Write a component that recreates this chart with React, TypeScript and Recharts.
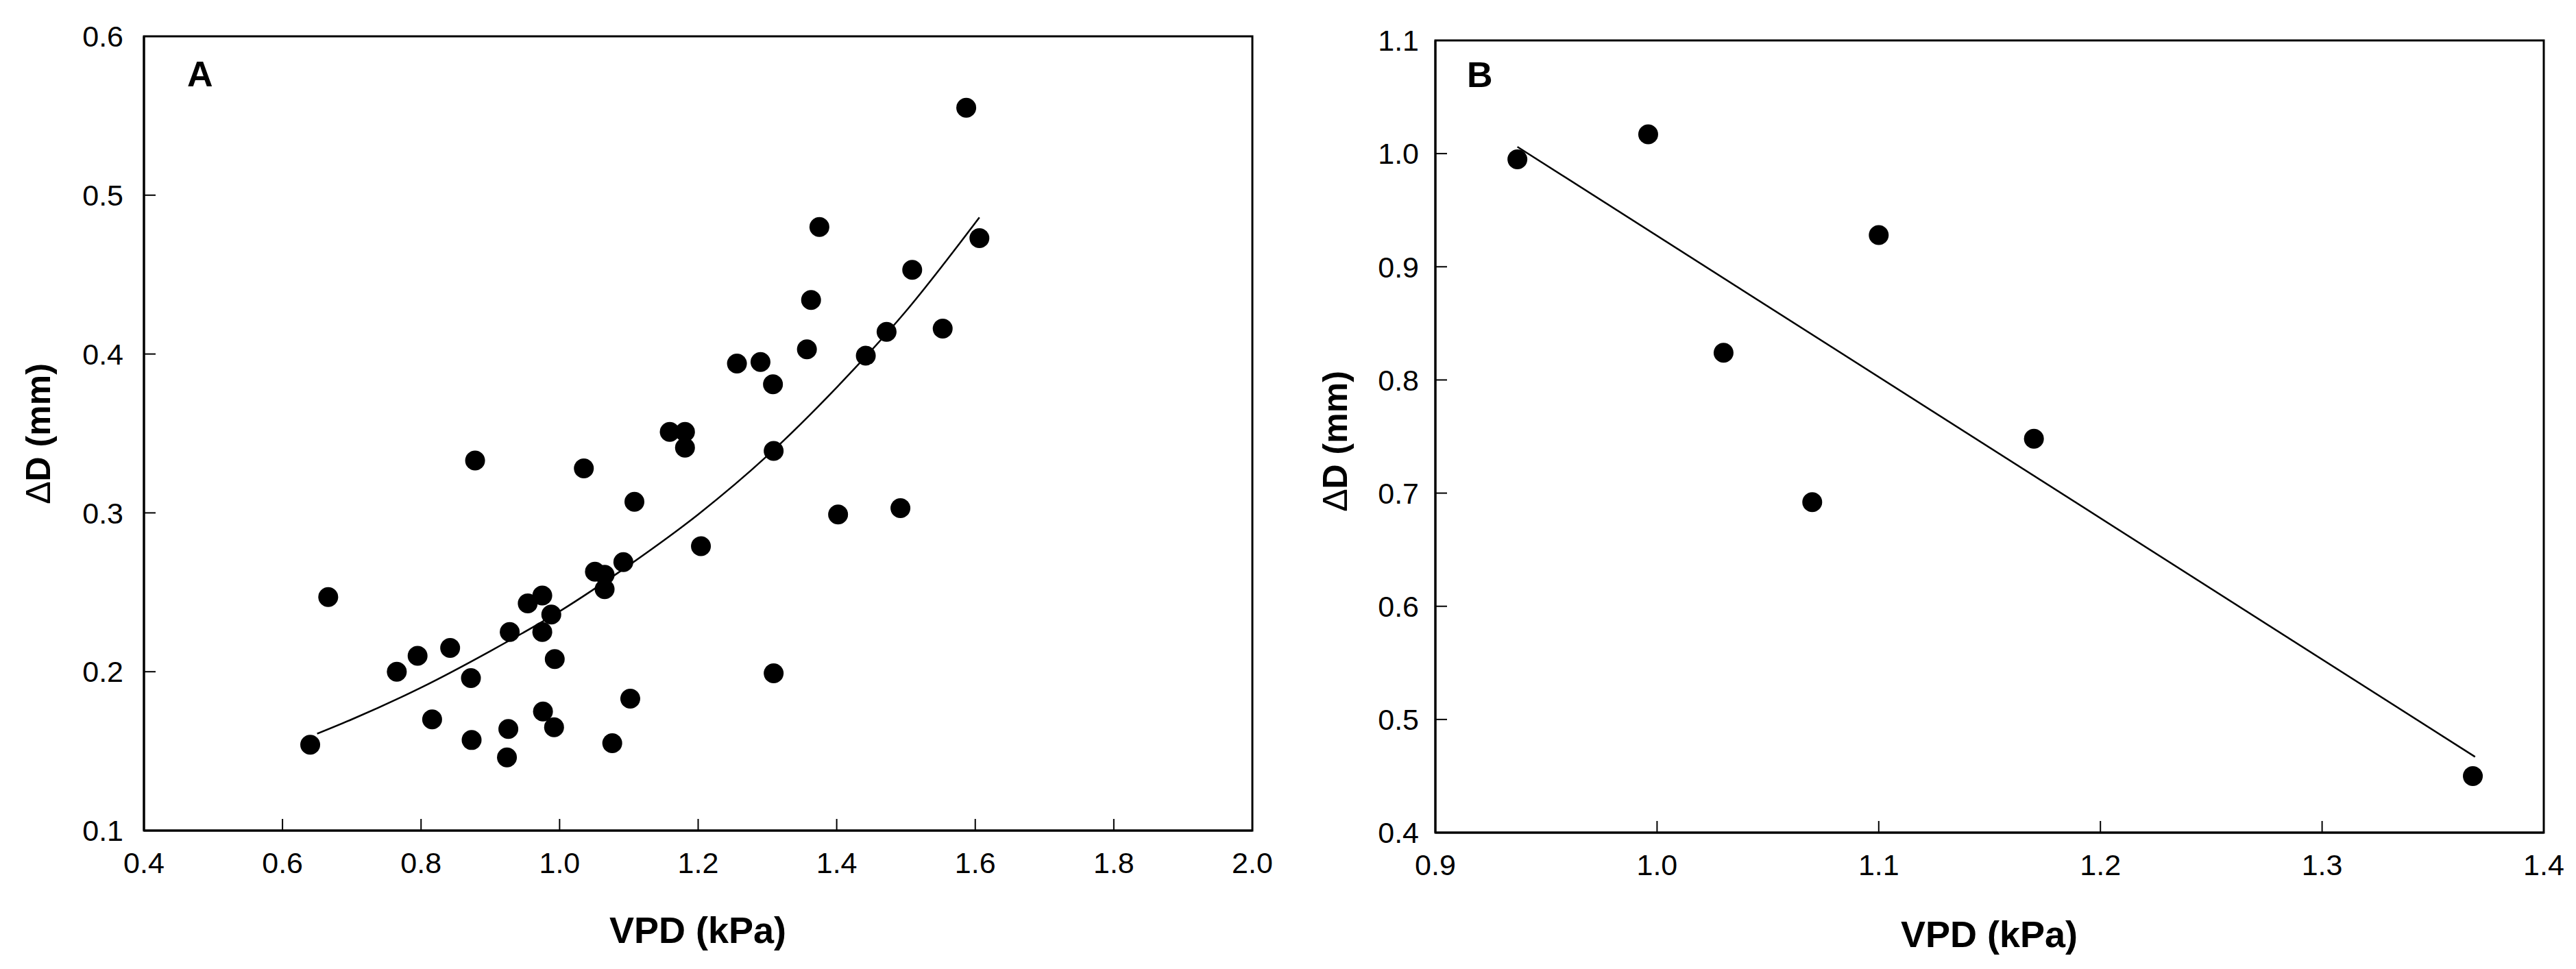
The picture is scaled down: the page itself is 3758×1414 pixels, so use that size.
import React from "react";
import { ScatterChart, Scatter, XAxis, YAxis, ReferenceArea } from "recharts";

const FONT = "'Liberation Sans', Arial, Helvetica, sans-serif";

// Panel A – all observations
const vpdA = [
  0.64, 0.666, 0.765, 0.795, 0.816, 0.842, 0.872, 0.873, 0.878, 0.924, 0.926,
  0.928, 0.954, 0.975, 0.975, 0.976, 0.988, 0.992, 0.993, 1.035, 1.051, 1.065,
  1.065, 1.076, 1.092, 1.102, 1.108, 1.159, 1.181, 1.181, 1.204, 1.256, 1.29,
  1.308, 1.309, 1.309, 1.357, 1.363, 1.375, 1.402, 1.442, 1.472, 1.492, 1.509,
  1.553, 1.587, 1.606,
];
const dA = [
  0.154, 0.247, 0.2, 0.21, 0.17, 0.215, 0.196, 0.157, 0.333, 0.146, 0.164,
  0.225, 0.243, 0.248, 0.225, 0.175, 0.236, 0.165, 0.208, 0.328, 0.263, 0.261,
  0.252, 0.155, 0.269, 0.183, 0.307, 0.351, 0.351, 0.341, 0.279, 0.394, 0.395,
  0.381, 0.339, 0.199, 0.403, 0.434, 0.48, 0.299, 0.399, 0.414, 0.303, 0.453,
  0.416, 0.555, 0.473,
];
// fitted curve
const fitVpdA = [0.65, 0.7, 0.8, 0.9, 1.0, 1.1, 1.2, 1.3, 1.4, 1.5, 1.606];
const fitDA = [0.161, 0.17, 0.19, 0.213, 0.238, 0.267, 0.299, 0.336, 0.379, 0.427, 0.486];
const xTicksA = [0.4, 0.6, 0.8, 1.0, 1.2, 1.4, 1.6, 1.8, 2.0];
const yTicksA = [0.1, 0.2, 0.3, 0.4, 0.5, 0.6];

// Panel B
const vpdB = [0.937, 0.996, 1.03, 1.07, 1.1, 1.17, 1.368];
const dB = [0.995, 1.017, 0.824, 0.692, 0.928, 0.748, 0.45];
const fitVpdB = [0.937, 1.369];
const fitDB = [1.006, 0.467];
const xTicksB = [0.9, 1.0, 1.1, 1.2, 1.3, 1.4];
const yTicksB = [0.4, 0.5, 0.6, 0.7, 0.8, 0.9, 1.0, 1.1];

const zip = (xs: number[], ys: number[]) => xs.map((x, i) => ({ x, y: ys[i] }));

const Dot = (props: any) => <circle cx={props.cx} cy={props.cy} r={14.5} fill="#000" />;
const NoDot = () => <g />;

interface PanelProps {
  width: number;
  height: number;
  margin: { top: number; right: number; bottom: number; left: number };
  xDomain: [number, number];
  yDomain: [number, number];
  xTicks: number[];
  yTicks: number[];
  points: { x: number; y: number }[];
  fit: { x: number; y: number }[];
  yTickMargin: number;
  curved?: boolean;
}

const Panel: React.FC<PanelProps> = ({
  width,
  height,
  margin,
  xDomain,
  yDomain,
  xTicks,
  yTicks,
  points,
  fit,
  yTickMargin,
  curved,
}) => (
  <ScatterChart width={width} height={height} margin={margin}>
    <XAxis
      type="number"
      dataKey="x"
      domain={xDomain}
      ticks={xTicks}
      interval={0}
      allowDataOverflow
      height={60}
      tickFormatter={(v: number) => v.toFixed(1)}
      tickSize={-17}
      tickMargin={48}
      axisLine={{ stroke: "#000", strokeWidth: 3 }}
      tickLine={{ stroke: "#000", strokeWidth: 2 }}
      tick={{ fill: "#000", fontSize: 43, fontFamily: FONT }}
    />
    <YAxis
      type="number"
      dataKey="y"
      domain={yDomain}
      ticks={yTicks}
      interval={0}
      allowDataOverflow
      width={120}
      tickFormatter={(v: number) => v.toFixed(1)}
      tickSize={-17}
      tickMargin={yTickMargin}
      axisLine={{ stroke: "#000", strokeWidth: 3 }}
      tickLine={{ stroke: "#000", strokeWidth: 2 }}
      tick={{ fill: "#000", fontSize: 43, fontFamily: FONT }}
    />
    <ReferenceArea
      x1={xDomain[0]}
      x2={xDomain[1]}
      y1={yDomain[0]}
      y2={yDomain[1]}
      fill="none"
      stroke="#000"
      strokeWidth={3}
      ifOverflow="visible"
    />
    <Scatter
      data={fit}
      fill="#000"
      shape={NoDot}
      line={{ stroke: "#000", strokeWidth: 2.5 }}
      lineJointType={curved ? "monotoneX" : "linear"}
      isAnimationActive={false}
    />
    <Scatter data={points} fill="#000" shape={Dot} isAnimationActive={false} />
  </ScatterChart>
);

const textBase: React.CSSProperties = {
  position: "absolute",
  fontFamily: FONT,
  color: "#000",
  lineHeight: 1,
  whiteSpace: "nowrap",
};

const XTitle = ({ cx, cy }: { cx: number; cy: number }) => (
  <div
    style={{
      ...textBase,
      left: cx,
      top: cy,
      fontSize: 54,
      fontWeight: 700,
      transform: "translate(-50%, -50%)",
    }}
  >
    VPD (kPa)
  </div>
);

const YTitle = ({ cx, cy }: { cx: number; cy: number }) => (
  <div
    style={{
      ...textBase,
      left: cx,
      top: cy,
      fontSize: 50,
      fontWeight: 700,
      transform: "translate(-50%, -50%) rotate(-90deg)",
    }}
  >
    <span style={{ fontWeight: 400 }}>Δ</span>D (mm)
  </div>
);

const Letter = ({ x, y, text }: { x: number; y: number; text: string }) => (
  <div style={{ ...textBase, left: x, top: y, fontSize: 52, fontWeight: 700 }}>{text}</div>
);

export default function App() {
  return (
    <div
      style={{
        position: "absolute",
        left: 0,
        top: 0,
        width: 3758,
        height: 1414,
        background: "#fff",
        overflow: "hidden",
      }}
    >
      <div style={{ position: "absolute", left: 0, top: 0 }}>
        <Panel
          width={1900}
          height={1414}
          margin={{ top: 53, right: 73, bottom: 142, left: 90 }}
          xDomain={[0.4, 2.0]}
          yDomain={[0.1, 0.6]}
          xTicks={xTicksA}
          yTicks={yTicksA}
          points={zip(vpdA, dA)}
          fit={zip(fitVpdA, fitDA)}
          yTickMargin={47}
          curved
        />
      </div>
      <div style={{ position: "absolute", left: 1860, top: 0 }}>
        <Panel
          width={1898}
          height={1414}
          margin={{ top: 59, right: 47, bottom: 139, left: 114 }}
          xDomain={[0.9, 1.4]}
          yDomain={[0.4, 1.1]}
          xTicks={xTicksB}
          yTicks={yTicksB}
          points={zip(vpdB, dB)}
          fit={zip(fitVpdB, fitDB)}
          yTickMargin={41}
        />
      </div>
      <XTitle cx={1018} cy={1357} />
      <XTitle cx={2902} cy={1363} />
      <YTitle cx={56} cy={633} />
      <YTitle cx={1948} cy={644} />
      <Letter x={273} y={82} text="A" />
      <Letter x={2140} y={83} text="B" />
    </div>
  );
}
